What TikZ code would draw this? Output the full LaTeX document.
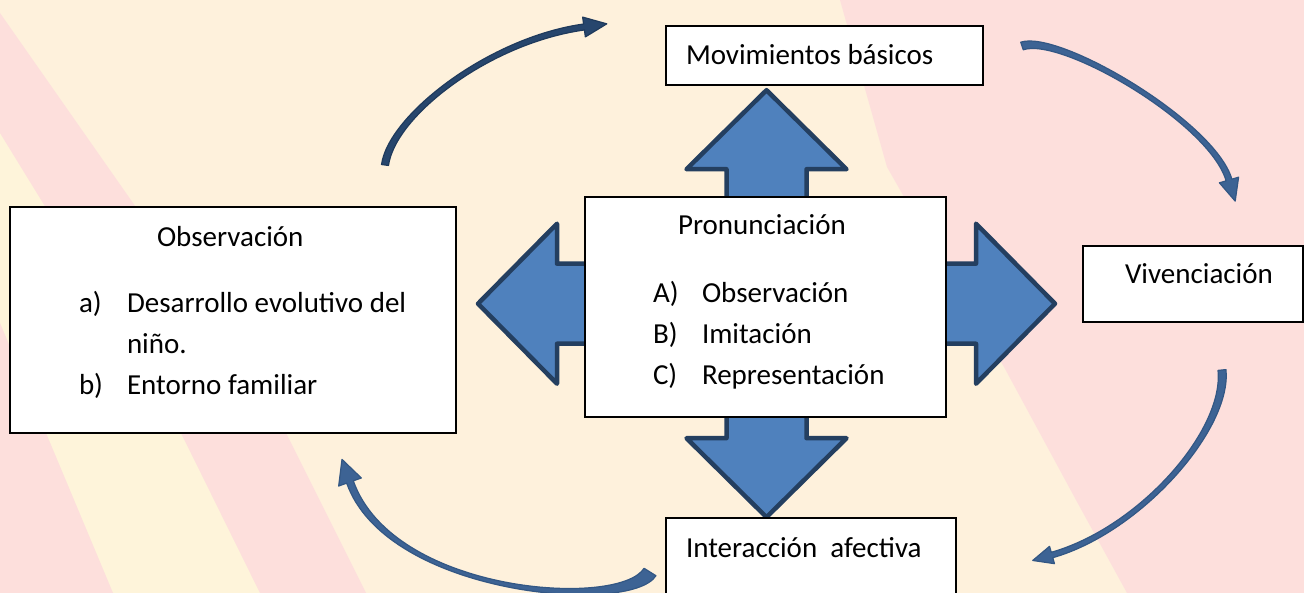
\documentclass[tikz,border=0pt]{standalone}
\usepackage{fontspec}
\setmainfont{Carlito}
\usetikzlibrary{calc}
\definecolor{cream}{HTML}{FEF1DC}
\definecolor{pinkbg}{HTML}{FDDFDC}
\definecolor{yellowbg}{HTML}{FEF4DA}
\definecolor{arrowfill}{HTML}{4F81BD}
\definecolor{arrowline}{HTML}{243F60}
\definecolor{curvefill}{HTML}{3D6394}
\definecolor{curveline}{HTML}{335784}
\definecolor{darkcurve}{HTML}{27466D}
\definecolor{darkcurveline}{HTML}{1F3A5C}
% tapered curved arrow: P0, C1, C2, P3, tail half width, base half width, barb half width, head length, style
\newcommand{\taparrow}[9]{%
  \path[#9] ($#1!#5!90:#2$) .. controls ($#2!#5!-90:#1$) and ($#3!#6!90:#4$) .. ($#4!#6!-90:#3$)
    -- ($#4!#7!-90:#3$) -- ($#4!-#8!#3$) -- ($#4!#7!90:#3$) -- ($#4!#6!90:#3$)
    .. controls ($#3!#6!-90:#4$) and ($#2!#5!90:#1$) .. ($#1!#5!-90:#2$) -- cycle;}
\tikzset{
  box/.style={draw=black, line width=1.3pt, fill=white, rectangle, inner sep=0pt, outer sep=0pt, anchor=north west},
  txt/.style={anchor=base west, inner sep=0pt, outer sep=0pt, font=\fontsize{29}{35}\selectfont},
  blockarrow/.style={fill=arrowfill, draw=arrowline, line width=4.5pt, line join=round},
  curveA/.style={fill=darkcurve, draw=darkcurveline, line width=1.2pt, line join=round},
  curveB/.style={fill=curvefill, draw=curveline, line width=1.2pt, line join=round},
}
\begin{document}
\begin{tikzpicture}[x=1pt,y=-1pt]
\useasboundingbox (0,0) rectangle (1304,593);
\clip (0,0) rectangle (1304,593);
% background
\fill[cream] (0,0) rectangle (1304,593);
\fill[yellowbg] (0,133) -- (43,203) -- (181,433) -- (260,593) -- (113,593) -- (46,433) -- (0,323) -- cycle;
\fill[pinkbg] (0,13) -- (133,203) -- (286,433) -- (366,593) -- (260,593) -- (181,433) -- (43,203) -- (0,133) -- cycle;
\fill[pinkbg] (0,323) -- (46,433) -- (113,593) -- (0,593) -- cycle;
\fill[pinkbg] (840,0) -- (1304,0) -- (1304,593) -- (1127,593) -- (1076,500) -- (1004,367) -- (940,260) -- (887,167) -- cycle;
% curved arrows
\taparrow{(385,165)}{(392,115)}{(490,40)}{(584,27)}{3.5pt}{3pt}{10pt}{23pt}{curveA}
\taparrow{(1022,46)}{(1060,33)}{(1212,122)}{(1229,180)}{4pt}{3pt}{10pt}{22pt}{curveB}
\taparrow{(1222,370)}{(1228,430)}{(1140,530)}{(1052,555)}{4pt}{2.8pt}{9pt}{20pt}{curveB}
\taparrow{(650,572)}{(625,612)}{(390,595)}{(350,482)}{7pt}{3.5pt}{12pt}{24pt}{curveB}
% four-way block arrow
\path[blockarrow, shift={(766.5,303.7)}]
  (0,-213.5) -- (80,-134.5) -- (40,-134.5) -- (40,-40) -- (209.5,-40) -- (209.5,-80) -- (288.5,0)
  -- (209.5,80) -- (209.5,40) -- (40,40) -- (40,134.5) -- (80,134.5) -- (0,213.5)
  -- (-80,134.5) -- (-40,134.5) -- (-40,40) -- (-209.5,40) -- (-209.5,80) -- (-288.5,0)
  -- (-209.5,-80) -- (-209.5,-40) -- (-40,-40) -- (-40,-134.5) -- (-80,-134.5) -- cycle;
% boxes
\node[box, minimum width=317pt, minimum height=59pt] (mov) at (666,26) {};
\node[box, minimum width=446pt, minimum height=226pt] (obs) at (10,207) {};
\node[box, minimum width=361pt, minimum height=220pt] (pron) at (585,197) {};
\node[box, minimum width=220pt, minimum height=76pt] (viv) at (1083,246) {};
\node[box, minimum width=290pt, minimum height=100pt] (inter) at (666,518) {};
% texts
\node[txt] (tmov) at (686,65) {Movimientos básicos};
\node[txt] (tobs) at (157,247) {Observación};
\node[txt] (la) at (79,313) {a)};
\node[txt] (ia) at (127,313) {Desarrollo evolutivo del};
\node[txt] (ia2) at (127,354) {niño.};
\node[txt] (lb) at (79,395) {b)};
\node[txt] (ib) at (127,395) {Entorno familiar};
\node[txt] (tpron) at (678,235) {Pronunciación};
\node[txt] (lA) at (653,303) {A)};
\node[txt] (iA) at (702,303) {Observación};
\node[txt] (lB) at (653,344) {B)};
\node[txt] (iB) at (702,344) {Imitación};
\node[txt] (lC) at (653,385) {C)};
\node[txt] (iC) at (702,385) {Representación};
\node[txt] (tviv) at (1125,284) {Vivenciación};
\node[txt] (tinter) at (686,557) {Interacción\ \ afectiva};
\end{tikzpicture}
\end{document}
